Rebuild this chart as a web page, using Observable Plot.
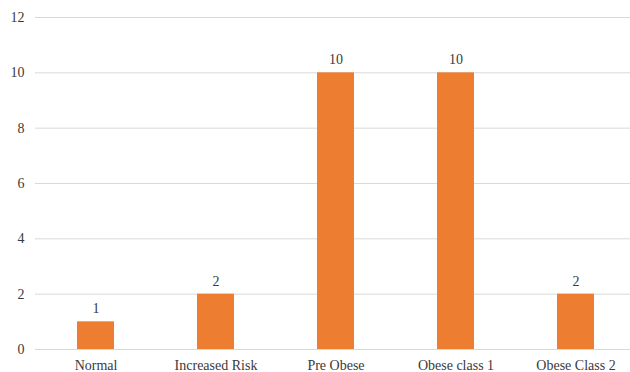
<!DOCTYPE html>
<html>
<head>
<meta charset="utf-8">
<script src="https://cdn.jsdelivr.net/npm/d3@7"></script>
<script src="https://cdn.jsdelivr.net/npm/@observablehq/plot@0.6"></script>
<style>
  html, body { margin: 0; padding: 0; background: #fff; overflow: hidden; }
  #chart { width: 630px; height: 372px; overflow: hidden; }
  #chart svg { overflow: visible; font-family: "Liberation Serif", "Times New Roman", serif !important; }
  #chart svg text { font-family: "Liberation Serif", "Times New Roman", serif !important; }
</style>
</head>
<body>
<div id="chart"></div>
<script>
const categories = ["Normal", "Increased Risk", "Pre Obese", "Obese class 1", "Obese Class 2"];
const counts = [1, 2, 10, 10, 2];
const yTicks = [0, 2, 4, 6, 8, 10, 12];

const data = categories.map((c, i) => ({category: c, count: counts[i]}));

const chart = Plot.plot({
  width: 630,
  height: 372,
  marginLeft: 35,
  marginRight: -7,
  marginTop: 17,
  marginBottom: 23,
  style: {fontSize: "14px", color: "#3a3a3a", background: "#fff"},
  x: {domain: categories, paddingInner: 0.69, paddingOuter: 0.345, label: null},
  y: {domain: [0, 12], ticks: yTicks, label: null},
  marks: [
    Plot.ruleY(yTicks, {stroke: "#d9d9d9", strokeWidth: 1}),
    Plot.barY(data, {x: "category", y: "count", fill: "#ED7D31"}),
    Plot.text(data, {x: "category", y: "count", text: d => String(d.count), dy: -13, fill: "#3a3a3a", fontSize: 14}),
    Plot.axisY({ticks: yTicks, tickSize: 0, tickPadding: 11, label: null, fontSize: 14}),
    Plot.axisX({tickSize: 0, tickPadding: 11, label: null, fontSize: 14})
  ]
});
document.getElementById("chart").appendChild(chart);
</script>
</body>
</html>
